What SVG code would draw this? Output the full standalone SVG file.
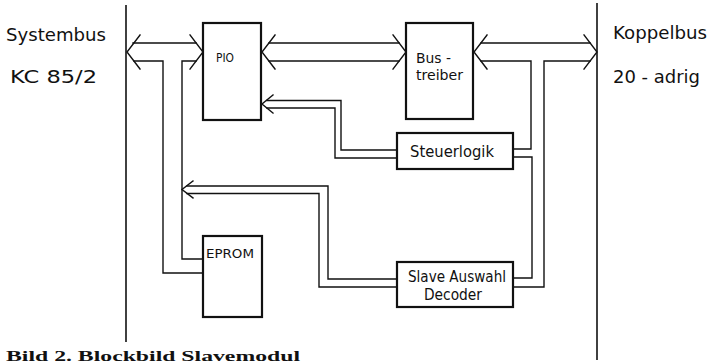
<svg xmlns="http://www.w3.org/2000/svg" width="710" height="363" viewBox="0 0 710 363">
<style>
.box{fill:#fff;stroke:#111;stroke-width:2.2}
.ln{fill:none;stroke:#111;stroke-width:1.4;stroke-linejoin:miter;stroke-linecap:square}
.bus{fill:none;stroke:#111;stroke-width:1.6}
.t{font-family:"DejaVu Sans","Liberation Sans",sans-serif;fill:#111}
.cap{font-family:"Liberation Serif","DejaVu Serif",serif;fill:#111}
</style>
<rect width="710" height="363" fill="#fff"/>
<g id="systembus">
<line class="bus" x1="126" y1="5" x2="126" y2="342"/>
<text class="t" x="6" y="41" font-size="17" textLength="100" lengthAdjust="spacingAndGlyphs">Systembus</text>
<text class="t" x="10" y="83" font-size="17" textLength="87" lengthAdjust="spacingAndGlyphs">KC 85/2</text>
</g>
<g id="koppelbus">
<line class="bus" x1="597" y1="3" x2="597" y2="360"/>
<text class="t" x="613" y="39" font-size="17" textLength="94" lengthAdjust="spacingAndGlyphs">Koppelbus</text>
<text class="t" x="613" y="83" font-size="17" textLength="87" lengthAdjust="spacingAndGlyphs">20 - adrig</text>
</g>
<g id="connectors">
<!-- left bus: Systembus <-> PIO -->
<path class="ln" d="M140,35 L127,52 L140,69 M190,35 L203,52 L190,69"/>
<path class="ln" d="M133,43 H196 M134,61 H163 V273 H203 M196,61 H182 V259 H203"/>
<!-- PIO <-> Bustreiber -->
<path class="ln" d="M275,35 L262,52 L275,69 M393,35 L406,52 L393,69"/>
<path class="ln" d="M269,43 H399 M269,61 H399"/>
<!-- Bustreiber <-> Koppelbus -->
<path class="ln" d="M487,35 L474,52 L487,69 M584,35 L597,52 L584,69"/>
<path class="ln" d="M481,43 H590 M481,61 H531 V149 H513 M590,61 H544 V287 H513"/>
<path class="ln" d="M513,157 H532 V278 H513"/>
<!-- Steuerlogik -> PIO -->
<path class="ln" d="M273,95 L262,104 L273,113"/>
<path class="ln" d="M267,100.5 H341 V150 H397 M267,108 H335 V158 H397"/>
<!-- Slave Decoder -> EPROM stem -->
<path class="ln" d="M193,181 L182,189.5 L193,198"/>
<path class="ln" d="M187,186 H328 V279 H397 M187,193.5 H319 V287 H397"/>
</g>
<g id="pio">
<rect class="box" x="203" y="23" width="58" height="97"/>
<text class="t" x="216" y="62" font-size="12.5" textLength="18" lengthAdjust="spacingAndGlyphs">PIO</text>
</g>
<g id="bustreiber">
<rect class="box" x="406" y="23" width="67" height="96"/>
<text class="t" x="416" y="63" font-size="14" textLength="35" lengthAdjust="spacingAndGlyphs">Bus -</text>
<text class="t" x="416" y="80" font-size="14" textLength="47" lengthAdjust="spacingAndGlyphs">treiber</text>
</g>
<g id="steuerlogik">
<rect class="box" x="397" y="133" width="116" height="36"/>
<text class="t" x="410" y="156.5" font-size="15" textLength="84" lengthAdjust="spacingAndGlyphs">Steuerlogik</text>
</g>
<g id="slave-decoder">
<rect class="box" x="397" y="262" width="116" height="45"/>
<text class="t" x="408" y="282" font-size="15" textLength="98" lengthAdjust="spacingAndGlyphs">Slave Auswahl</text>
<text class="t" x="424" y="300" font-size="15" textLength="58" lengthAdjust="spacingAndGlyphs">Decoder</text>
</g>
<g id="eprom">
<rect class="box" x="203" y="236" width="59" height="81"/>
<text class="t" x="206" y="258" font-size="11.5" textLength="48" lengthAdjust="spacingAndGlyphs">EPROM</text>
</g>
<text class="cap" x="6" y="361" font-size="14" font-weight="bold" textLength="294" lengthAdjust="spacingAndGlyphs">Bild 2. Blockbild Slavemodul</text>
</svg>
